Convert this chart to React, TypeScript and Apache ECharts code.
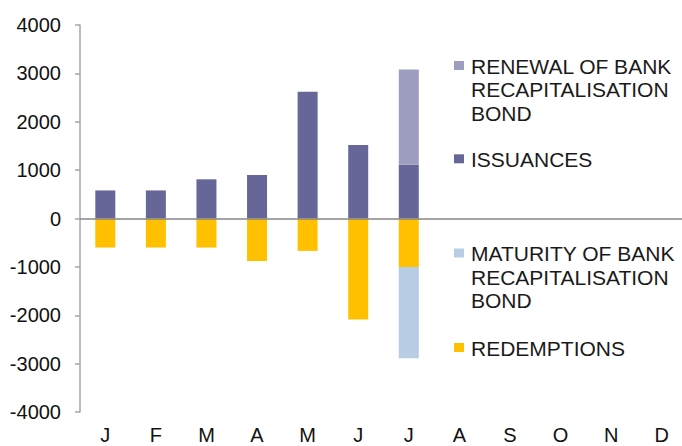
import React, { useEffect, useRef } from "react";
import * as echarts from "echarts";

const months = ["J", "F", "M", "A", "M", "J", "J", "A", "S", "O", "N", "D"];
const issuances = [580, 580, 810, 900, 2620, 1520, 1110, null, null, null, null, null];
const renewal = [null, null, null, null, null, null, 1970, null, null, null, null, null];
const redemptions = [-600, -600, -600, -880, -670, -2090, -1000, null, null, null, null, null];
const maturity = [null, null, null, null, null, null, -1890, null, null, null, null, null];
const yTicks = { min: -4000, max: 4000, interval: 1000 };

const legendItems = [
  { name: "RENEWAL OF BANK\nRECAPITALISATION\nBOND", color: "#9D9DC0", y: 65.5 },
  { name: "ISSUANCES", color: "#666699", y: 158.8 },
  { name: "MATURITY OF BANK\nRECAPITALISATION\nBOND", color: "#B8CCE4", y: 253 },
  { name: "REDEMPTIONS", color: "#FFC000", y: 347.5 },
];

const FONT = "Liberation Sans, Arial, sans-serif";

export default function App() {
  const ref = useRef<HTMLDivElement>(null);
  useEffect(() => {
    if (!ref.current) return;
    const chart = echarts.init(ref.current, undefined, { renderer: "svg" });
    const lh = 23.5;
    const graphic: any[] = [];
    legendItems.forEach((it) => {
      graphic.push({
        type: "rect",
        shape: { x: 454, y: it.y - 4.5, width: 10, height: 9 },
        style: { fill: it.color },
        silent: true,
      });
      graphic.push({
        type: "text",
        x: 471,
        y: it.y - lh / 2 + 0.5,
        style: {
          text: it.name,
          fontFamily: FONT,
          fontSize: 21,
          lineHeight: lh,
          fill: "#1a1a1a",
          verticalAlign: "top",
          align: "left",
        },
        silent: true,
      });
    });
    const barCommon = { type: "bar", stack: "s", barWidth: 20 };
    chart.setOption({
      animation: false,
      grid: { left: 80, right: -5, top: 25, bottom: 34, containLabel: false, outerBoundsMode: "none" },
      xAxis: {
        type: "category",
        data: months,
        axisLine: { show: false },
        axisTick: { show: false },
        axisLabel: { fontFamily: FONT, fontSize: 20, lineHeight: 20, color: "#111", margin: 13 },
      },
      yAxis: {
        type: "value",
        ...yTicks,
        splitLine: { show: false },
        axisLine: { show: true, lineStyle: { color: "#A6A6A6", width: 1.5 } },
        axisTick: { show: true, length: 5, lineStyle: { color: "#A6A6A6", width: 1.5 } },
        axisLabel: {
          fontFamily: FONT,
          fontSize: 20,
          color: "#111",
          margin: 19,
          formatter: (v: number) => String(v),
        },
      },
      graphic,
      series: [
        {
          ...barCommon,
          name: "ISSUANCES",
          data: issuances,
          itemStyle: { color: "#666699" },
          markLine: {
            silent: true,
            symbol: "none",
            label: { show: false },
            lineStyle: { color: "#868686", width: 1.5, type: "solid" },
            data: [{ yAxis: 0 }],
          },
        },
        { ...barCommon, name: "RENEWAL OF BANK RECAPITALISATION BOND", data: renewal, itemStyle: { color: "#9D9DC0" } },
        { ...barCommon, name: "REDEMPTIONS", data: redemptions, itemStyle: { color: "#FFC000" } },
        { ...barCommon, name: "MATURITY OF BANK RECAPITALISATION BOND", data: maturity, itemStyle: { color: "#B8CCE4" } },
      ],
    });
    return () => chart.dispose();
  }, []);
  return <div ref={ref} style={{ width: 682, height: 446, position: "absolute", left: 0, top: 0 }} />;
}
